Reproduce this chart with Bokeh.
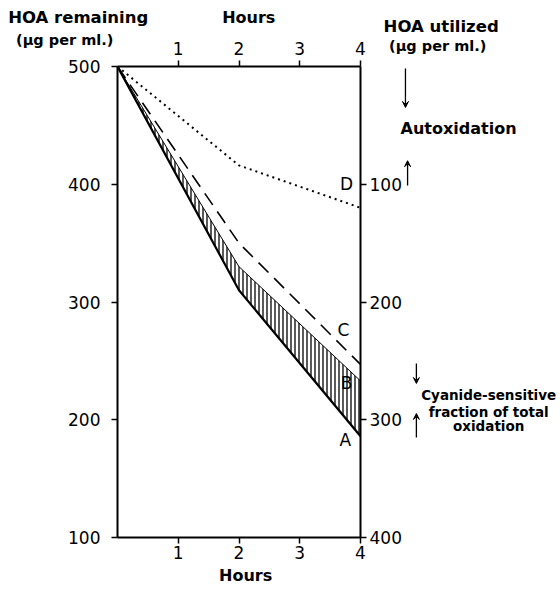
from bokeh.plotting import figure
from bokeh.models import (LinearAxis, Range1d, FixedTicker, Label, Arrow, VeeHead,
                          ColumnDataSource)
from bokeh.embed import file_html
from bokeh.resources import INLINE

# ---- data ----
hours = [0, 2, 4]
curve_A = [500, 310, 186]   # lower boundary of hatched band
curve_B = [500, 330, 233]   # upper boundary of hatched band
curve_C = [500, 350, 247]   # dashed
curve_D = [500, 416, 380]   # dotted (autoxidation)

left_ticks = [100, 200, 300, 400, 500]
right_ticks = [100, 200, 300, 400]
hour_ticks = [1, 2, 3, 4]

FONT = "DejaVu Sans"
W, H = 560, 589
BL, BR, BT, BB = 117, 200, 66, 52
X0, X1, Y0, Y1 = 0, 4, 100, 500

p = figure(width=W, height=H, output_backend="svg", toolbar_location=None,
           x_range=Range1d(X0, X1), y_range=Range1d(Y0, Y1),
           min_border_left=BL, min_border_right=BR, min_border_top=BT,
           min_border_bottom=BB, x_axis_location=None, y_axis_location=None)
p.grid.visible = False
p.outline_line_color = None
p.background_fill_color = "white"
p.border_fill_color = "white"

p.extra_y_ranges = {"util": Range1d(400, 0)}


def style_axis(ax, ticks):
    ax.ticker = FixedTicker(ticks=ticks)
    ax.minor_tick_line_color = None
    ax.major_tick_in = 0
    ax.major_tick_out = 6
    ax.axis_line_width = 2
    ax.major_tick_line_width = 1.5
    ax.axis_line_color = "black"
    ax.major_tick_line_color = "black"
    ax.major_label_text_font = FONT
    ax.major_label_text_font_size = "17px"
    ax.major_label_text_color = "black"


ax_left = LinearAxis()
style_axis(ax_left, left_ticks)
ax_left.major_label_standoff = 11
p.add_layout(ax_left, "left")

ax_right = LinearAxis(y_range_name="util")
style_axis(ax_right, right_ticks)
ax_right.major_label_standoff = 3
p.add_layout(ax_right, "right")

ax_top = LinearAxis()
style_axis(ax_top, hour_ticks)
ax_top.major_label_standoff = 6
p.add_layout(ax_top, "above")

ax_bot = LinearAxis()
style_axis(ax_bot, hour_ticks)
ax_bot.major_label_standoff = 2
p.add_layout(ax_bot, "below")

# hatched band between A and B
band = ColumnDataSource(dict(x=hours + hours[::-1], y=curve_A + curve_B[::-1]))
p.patch("x", "y", source=band, fill_color="white", fill_alpha=1,
        hatch_pattern="vertical_line", hatch_color="black", hatch_scale=4,
        hatch_weight=1.3, line_color=None)

p.line(hours, curve_A, line_color="black", line_width=2.2)
p.line(hours, curve_B, line_color="black", line_width=1)
p.line(hours, curve_C, line_color="black", line_width=1.6, line_dash="14 8")
p.line(hours, curve_D, line_color="black", line_width=2, line_dash="2 4")

# ---- transparent overlay covering the whole canvas, same data scale ----
ppx = (W - BL - BR) / (X1 - X0)
ppy = (H - BT - BB) / (Y1 - Y0)
ov = figure(width=W, height=H, output_backend="svg", toolbar_location=None,
            x_range=Range1d(X0 - BL / ppx, X1 + BR / ppx),
            y_range=Range1d(Y0 - BB / ppy, Y1 + BT / ppy),
            min_border_left=0, min_border_right=0, min_border_top=0,
            min_border_bottom=0, x_axis_location=None, y_axis_location=None)
ov.grid.visible = False
ov.outline_line_color = None
ov.background_fill_alpha = 0
ov.border_fill_alpha = 0
ov.styles = {"position": "absolute", "top": "0px", "left": "0px"}


def lab(x, y, text, size="14px", bold=True, align="left"):
    ov.add_layout(Label(x=x, y=y, text=text, text_font=FONT, text_font_size=size,
                        text_font_style="bold" if bold else "normal",
                        text_align=align, text_baseline="middle", text_color="black"))


# headers
lab(-1.80, 541.6, "HOA remaining", "16.5px")
lab(-1.67, 522.9, "(\u03bcg per ml.)", "14.5px")
lab(2.16, 541.6, "Hours", "16px", align="center")
lab(2.11, 67.7, "Hours", "16px", align="center")
lab(4.38, 534.0, "HOA utilized", "16.5px")
lab(4.47, 517.8, "(\u03bcg per ml.)", "14.5px")
lab(4.66, 447.3, "Autoxidation", "16px")
# curve letters
lab(3.77, 400.5, "D", "17px", bold=False, align="center")
lab(3.72, 275.8, "C", "17px", bold=False, align="center")
lab(3.77, 230.8, "B", "17px", bold=False, align="center")
lab(3.75, 182.4, "A", "17px", bold=False, align="center")
# cyanide note
lab(6.11, 220.6, "Cyanide-sensitive", "13.5px", align="center")
lab(6.11, 207.0, "fraction of total", "13.5px", align="center")
lab(6.11, 194.3, "oxidation", "13.5px", align="center")


def arrow(x, y0, y1):
    ov.add_layout(Arrow(x_start=x, y_start=y0, x_end=x, y_end=y1, line_width=1.3,
                        line_color="black",
                        end=VeeHead(size=6, line_color="black", fill_color="black",
                                    line_width=1)))


arrow(4.74, 498.3, 465.2)
arrow(4.775, 399.0, 420.0)
arrow(4.92, 247.8, 230.8)
arrow(4.92, 184.9, 205.3)

open("out.html", "w").write(file_html([p, ov], INLINE))
